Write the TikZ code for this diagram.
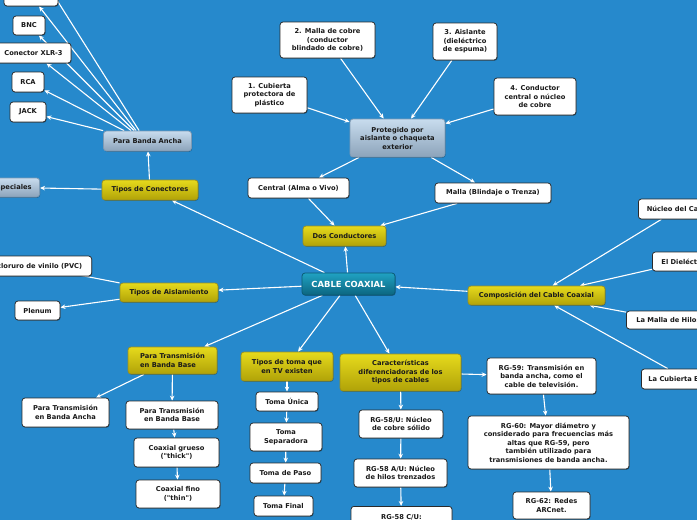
\documentclass[tikz,border=0pt]{standalone}
\usepackage{fontspec}
\setmainfont{DejaVu Sans}
\usetikzlibrary{arrows.meta,calc,shadows}
\pgfdeclarelayer{back}
\pgfdeclarelayer{lines}
\pgfsetlayers{back,lines,main}
\definecolor{bgblue}{HTML}{2689CC}
\definecolor{txt}{HTML}{1A1A1A}
\definecolor{wborder}{HTML}{2A2A2A}
\definecolor{ytop}{HTML}{E6DA1C}
\definecolor{ybot}{HTML}{B0A208}
\definecolor{yborder}{HTML}{9A9020}
\definecolor{gtop}{HTML}{C8DCEE}
\definecolor{gbot}{HTML}{8CA3BA}
\definecolor{gborder}{HTML}{7E9AB4}
\definecolor{mtop}{HTML}{20A2C2}
\definecolor{mmid}{HTML}{1689A9}
\definecolor{mbot}{HTML}{0B6580}
\definecolor{mborder}{HTML}{0A5A73}
\begin{document}
\begin{tikzpicture}[x=1pt,y=-1pt,
  base/.style={rounded corners=3pt, inner sep=2pt, font=\fontsize{6.7}{8.5}\selectfont\bfseries, text=txt, line width=0.75pt,
    drop shadow={shadow xshift=0.6pt, shadow yshift=-0.8pt, opacity=0.3, fill=black}},
  wbox/.style={base, align=center, draw=wborder, fill=white},
  wboxt/.style={base, draw=wborder, fill=white},
  ybox/.style={base, align=center, draw=yborder, top color=ytop, bottom color=ybot},
  gbox/.style={base, align=center, draw=gborder, top color=gtop, bottom color=gbot},
  mainbox/.style={base, align=center, draw=mborder, top color=mtop, middle color=mmid, bottom color=mbot, text=white, font=\fontsize{8.4}{10}\selectfont\bfseries},
  arr/.style={draw=white, line width=1.1pt, -{Stealth[length=5pt,width=4.5pt]}},
  sz/.style 2 args={minimum width=#1, minimum height=#2}
]
\useasboundingbox (0,0) rectangle (697,520);
\begin{pgfonlayer}{back}
\fill[bgblue] (0,0) rectangle (697,520);
\end{pgfonlayer}

% left connectors cluster
\node[wbox, sz={54}{20}] (tb) at (31,-4) {};
\coordinate (off) at (43,-22);
\node[wbox, sz={32}{19}] (bnc) at (29,25.5) {BNC};
\node[wbox, sz={75}{20}] (xlr) at (33.5,53) {Conector XLR-3};
\node[wbox, sz={32}{20}] (rca) at (28,82) {RCA};
\node[wbox, sz={36}{20}] (jack) at (28,112) {JACK};
\node[gbox, sz={88}{20}] (pba) at (147.5,141) {Para Banda Ancha};
\node[gbox, sz={52}{19}, anchor=east, inner xsep=8pt] (esp) at (40,187.5) {Especiales};
\node[ybox, sz={96}{20}] (tc) at (150,190) {Tipos de Conectores};

% top structure
\node[wbox, sz={95}{36}] (m2) at (327.5,40) {2. Malla de cobre\\(conductor\\blindado de cobre)};
\node[wbox, sz={64}{37}] (a3) at (465,41.5) {3. Aislante\\(dieléctrico\\de espuma)};
\node[wbox, sz={75}{36}] (c1) at (269.5,95) {1. Cubierta\\protectora de\\plástico};
\node[wbox, sz={82}{37}] (c4) at (535,96.5) {4. Conductor\\central o núcleo\\de cobre};
\node[gbox, sz={95}{38}] (prot) at (397.5,138) {Protegido por\\aislante o chaqueta\\exterior};
\node[wbox, sz={101}{20}] (central) at (298.5,188) {Central (Alma o Vivo)};
\node[wbox, sz={116}{20}] (malla) at (493,193) {Malla (Blindaje o Trenza)};
\node[ybox, sz={83}{20}] (dos) at (344.5,236) {Dos Conductores};
\node[mainbox, sz={93}{22}] (cab) at (348.5,284) {CABLE COAXIAL};

% aislamiento
\node[ybox, sz={98}{19}] (ta) at (169,292.5) {Tipos de Aislamiento};
\node[wbox, sz={118}{20}, anchor=east, inner xsep=9pt] (pvc) at (92,266) {Policloruro de vinilo (PVC)};
\node[wbox, sz={45}{19}] (plenum) at (37.5,310.5) {Plenum};

% composicion
\node[ybox, sz={137}{19}] (comp) at (536.5,295.5) {Composición del Cable Coaxial};
\node[wbox, sz={80}{20}, anchor=west, inner xsep=7pt] (nuc) at (638,209) {Núcleo del Cable};
\node[wbox, sz={68}{19}, anchor=west, inner xsep=7pt] (diel) at (652,261.5) {El Dieléctrico};
\node[wbox, sz={84}{18}, anchor=west, inner xsep=7pt] (mhilo) at (626,320) {La Malla de Hilos};
\node[wbox, sz={90}{20}, anchor=west, inner xsep=7pt] (cub) at (641,379) {La Cubierta Exterior};

% banda base
\node[ybox, sz={89}{27}, align=left] (ptbb) at (172.5,360.5) {Para Transmisión\\en Banda Base};
\node[wbox, sz={87}{29}] (ptba) at (65.5,412.5) {Para Transmisión\\en Banda Ancha};
\node[wbox, sz={92}{28}] (ptbbw) at (172,415) {Para Transmisión\\en Banda Base};
\node[wbox, sz={85}{29}] (grueso) at (176.5,452.5) {Coaxial grueso\\(\textquotedbl thick\textquotedbl)};
\node[wbox, sz={84}{28}] (fino) at (178,494) {Coaxial fino\\(\textquotedbl thin\textquotedbl)};

% tomas
\node[ybox, sz={92}{29}] (ttv) at (287,366.5) {Tipos de toma que\\en TV existen};
\node[wbox, sz={62}{19}] (tu) at (287,401.5) {Toma Única};
\node[wbox, sz={72}{28}] (tsep) at (286,437) {Toma\\Separadora};
\node[wbox, sz={71}{20}] (tpaso) at (285.5,473) {Toma de Paso};
\node[wbox, sz={59}{20}] (tfin) at (283.5,506) {Toma Final};

% caracteristicas
\node[ybox, sz={121}{37}] (car) at (400.5,372.5) {Características\\diferenciadoras de los\\tipos de cables};
\node[wbox, sz={109}{36}] (rg59) at (541.5,376) {RG-59: Transmisión en\\banda ancha, como el\\cable de televisión.};
\node[wbox, sz={84}{28}] (rg58u) at (401,424) {RG-58/U: Núcleo\\de cobre sólido};
\node[wbox, sz={93}{28}] (rg58a) at (400.5,473) {RG-58 A/U: Núcleo\\de hilos trenzados};
\node[wboxt, minimum width=101, anchor=north, text height=11pt, text depth=24pt] (rg58c) at (401.5,506) {RG-58 C/U:};
\node[wbox, sz={161}{53}] (rg60) at (548.5,442.5) {RG-60: Mayor diámetro y\\considerado para frecuencias más\\altas que RG-59, pero\\también utilizado para\\transmisiones de banda ancha.};
\node[wbox, sz={77}{27}] (rg62) at (551.5,505.5) {RG-62: Redes\\ARCnet.};

\begin{pgfonlayer}{lines}
\draw[arr] (pba.north west) -- (jack);
\draw[arr] ([xshift=21pt]pba.north west) -- (rca);
\draw[arr] ([xshift=28pt]pba.north west) -- (xlr);
\draw[arr] ([xshift=31pt]pba.north west) -- (bnc);
\draw[arr] ([xshift=33pt]pba.north west) -- (tb);
\draw[arr] ([xshift=36pt]pba.north west) -- (off);
\draw[arr] (tc) -- (pba);
\draw[arr] (tc) -- (esp);
\draw[arr] (cab) -- (tc);
\draw[arr] (cab) -- (ta);
\draw[arr] (cab) -- (dos);
\draw[arr] (cab) -- (ptbb);
\draw[arr] (cab) -- (ttv);
\draw[arr] (cab) -- (car);
\draw[arr] (comp) -- (cab);
\draw[arr] (ta) -- (pvc.center);
\draw[arr] (ta) -- (plenum);
\draw[arr] (central) -- (dos);
\draw[arr] (malla) -- (dos);
\draw[arr] (prot) -- (central);
\draw[arr] (prot) -- (malla);
\draw[arr] (c1) -- (prot);
\draw[arr] (m2) -- (prot);
\draw[arr] (a3) -- (prot);
\draw[arr] (c4) -- (prot);
\draw[arr] (nuc) -- (comp);
\draw[arr] (diel) -- (comp);
\draw[arr] (mhilo) -- (comp);
\draw[arr] (cub) -- (comp);
\draw[arr] (ptbb) -- (ptba);
\draw[arr] (ptbb) -- (ptbbw);
\draw[arr] (ptbbw) -- (grueso);
\draw[arr] (grueso) -- (fino);
\draw[arr] (ttv) -- (tu);
\draw[arr] (tu) -- (tsep);
\draw[arr] (tsep) -- (tpaso);
\draw[arr] (tpaso) -- (tfin);
\draw[arr] (car) -- (rg59);
\draw[arr] (car) -- (rg58u);
\draw[arr] (rg58u) -- (rg58a);
\draw[arr] (rg58a) -- (rg58c);
\draw[arr] (rg59) -- (rg60);
\draw[arr] (rg60) -- (rg62);
\end{pgfonlayer}
\end{tikzpicture}
\end{document}
